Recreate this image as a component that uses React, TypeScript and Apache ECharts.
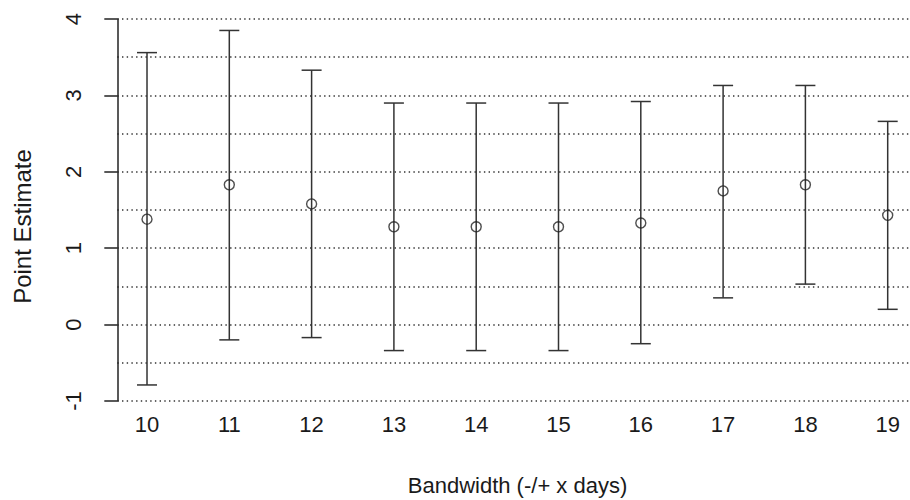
import React, { useEffect, useRef } from "react";
import * as echarts from "echarts";

const categories = [10, 11, 12, 13, 14, 15, 16, 17, 18, 19];
const pointEstimates = [1.38, 1.83, 1.58, 1.28, 1.28, 1.28, 1.33, 1.75, 1.83, 1.43];
const upperBounds = [3.56, 3.85, 3.33, 2.9, 2.9, 2.9, 2.92, 3.13, 3.13, 2.66];
const lowerBounds = [-0.79, -0.2, -0.17, -0.34, -0.34, -0.34, -0.25, 0.35, 0.53, 0.2];
const yTicks = [-1, 0, 1, 2, 3, 4];
const xTitle = "Bandwidth (-/+ x days)";
const yTitle = "Point Estimate";

export default function App() {
  const ref = useRef<HTMLDivElement>(null);
  useEffect(() => {
    if (!ref.current) return;
    const chart = echarts.init(ref.current, null, { renderer: "svg" });
    const font = "'Liberation Sans', Arial, sans-serif";
    const errData = categories.map((c, i) => [c, lowerBounds[i], upperBounds[i]]);
    const ptData = categories.map((c, i) => [c, pointEstimates[i]]);
    chart.setOption({
      animation: false,
      backgroundColor: "#ffffff",
      grid: { left: 117.3, right: 0, top: 19, bottom: 99, containLabel: false },
      xAxis: {
        type: "value",
        min: 9.639,
        max: 19.271,
        axisLine: { show: false },
        axisTick: { show: false },
        splitLine: { show: false },
        axisLabel: {
          customValues: categories,
          color: "#1a1a1a",
          fontSize: 22,
          fontFamily: font,
          margin: 12,
        },
      },
      yAxis: [
        {
          type: "value",
          min: -1,
          max: 4,
          interval: 1,
          axisLine: { show: true, lineStyle: { color: "#222", width: 1.5 } },
          axisTick: {
            show: true,
            customValues: yTicks,
            length: 13,
            lineStyle: { color: "#222", width: 1.5 },
          },
          axisLabel: {
            customValues: yTicks,
            rotate: 90,
            color: "#1a1a1a",
            fontSize: 22,
            fontFamily: font,
            margin: 33,
          },
          splitLine: { show: false },
        },
        {
          type: "value",
          min: -1,
          max: 4,
          interval: 0.5,
          position: "left",
          axisLine: { show: false },
          axisTick: { show: false },
          axisLabel: { show: false },
          splitLine: {
            show: true,
            lineStyle: { color: "#333", width: 1.5, type: [1.4, 3.3] },
          },
        },
      ],
      graphic: [
        {
          type: "text",
          x: 517.5,
          y: 485,
          style: {
            text: xTitle,
            fill: "#1a1a1a",
            fontSize: 22,
            fontFamily: font,
            textAlign: "center",
            textVerticalAlign: "middle",
          },
        },
        {
          type: "text",
          x: 22.5,
          y: 226.5,
          rotation: Math.PI / 2,
          style: {
            text: yTitle,
            fill: "#1a1a1a",
            fontSize: 24,
            fontFamily: font,
            textAlign: "center",
            textVerticalAlign: "middle",
          },
        },
      ],
      series: [
        {
          type: "custom",
          data: errData,
          yAxisIndex: 0,
          renderItem: (params: any, api: any) => {
            const x = api.value(0);
            const lo = api.coord([x, api.value(1)]);
            const hi = api.coord([x, api.value(2)]);
            const style = { stroke: "#333", lineWidth: 1.5 };
            const cap = 10;
            return {
              type: "group",
              children: [
                { type: "line", shape: { x1: lo[0], y1: lo[1], x2: hi[0], y2: hi[1] }, style },
                { type: "line", shape: { x1: hi[0] - cap, y1: hi[1], x2: hi[0] + cap, y2: hi[1] }, style },
                { type: "line", shape: { x1: lo[0] - cap, y1: lo[1], x2: lo[0] + cap, y2: lo[1] }, style },
              ],
            };
          },
          z: 3,
        },
        {
          type: "scatter",
          data: ptData,
          yAxisIndex: 0,
          symbol: "circle",
          symbolSize: 10,
          itemStyle: { color: "rgba(0,0,0,0)", borderColor: "#222", borderWidth: 1.4 },
          z: 4,
        },
      ],
    });
    return () => chart.dispose();
  }, []);
  return (
    <div
      ref={ref}
      style={{ position: "fixed", left: 0, top: 0, width: 910, height: 500, background: "#fff" }}
    />
  );
}
